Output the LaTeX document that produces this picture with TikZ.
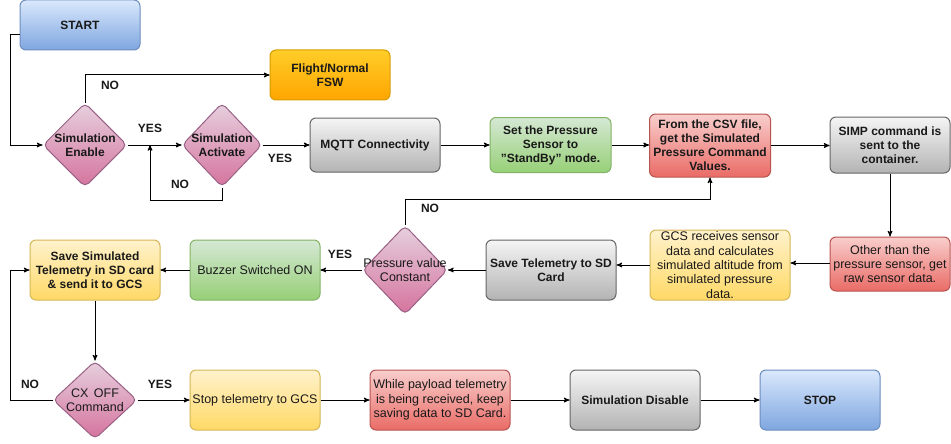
\documentclass[tikz,border=0pt]{standalone}
\usepackage{fontspec}
\setmainfont{Liberation Sans}
\usetikzlibrary{arrows}
\usetikzlibrary{shapes.geometric}

\definecolor{blueT}{HTML}{DAE8FC}\definecolor{blueB}{HTML}{7EA6E0}\definecolor{blueD}{HTML}{6C8EBF}
\definecolor{oranT}{HTML}{FFCD28}\definecolor{oranB}{HTML}{FFA500}\definecolor{oranD}{HTML}{D79B00}
\definecolor{grayT}{HTML}{F5F5F5}\definecolor{grayB}{HTML}{B3B3B3}\definecolor{grayD}{HTML}{666666}
\definecolor{grenT}{HTML}{D5E8D4}\definecolor{grenB}{HTML}{97D077}\definecolor{grenD}{HTML}{82B366}
\definecolor{redT}{HTML}{F8CECC}\definecolor{redB}{HTML}{EA6B66}\definecolor{redD}{HTML}{B85450}
\definecolor{yelT}{HTML}{FFF2CC}\definecolor{yelB}{HTML}{FFD966}\definecolor{yelD}{HTML}{D6B656}
\definecolor{pinkT}{HTML}{E6D0DE}\definecolor{pinkB}{HTML}{D5739D}\definecolor{pinkD}{HTML}{996185}

\tikzset{
 box/.style={rounded corners=6pt, align=center, inner sep=0pt, text=black!90,
   font=\fontsize{12}{14}\selectfont\bfseries},
 regtext/.style={font=\fontsize{12.5}{14.3}\selectfont},
 bluebox/.style={box, draw=blueD, top color=blueT, bottom color=blueB},
 oranbox/.style={box, draw=oranD, top color=oranT, bottom color=oranB},
 graybox/.style={box, draw=grayD, top color=grayT, bottom color=grayB},
 grenbox/.style={box, draw=grenD, top color=grenT, bottom color=grenB},
 redbox/.style={box, draw=redD, top color=redT, bottom color=redB},
 yelbox/.style={box, draw=yelD, top color=yelT, bottom color=yelB},
 decision/.style={diamond, rounded corners=5pt, inner sep=0pt, draw=pinkD, top color=pinkT, bottom color=pinkB},
 dtext/.style={align=center, inner sep=0pt, text=black!90, font=\fontsize{12}{14}\selectfont\bfseries},
 lbl/.style={inner sep=0pt, text=black!90, font=\fontsize{12}{14}\selectfont\bfseries}
}

\begin{document}
\begin{tikzpicture}[x=1pt, y=-1pt, >=stealth', line width=1pt]
\useasboundingbox (0,0) rectangle (951,444);
% top rows
\node[bluebox, minimum width=120, minimum height=50] (start) at (80,25) {START};
\node[oranbox, minimum width=120, minimum height=50] (fsw) at (330,75) {Flight/Normal\\FSW};
\node[decision, minimum width=84, minimum height=84] (enable) at (85,145) {};
\node[dtext] at (enable) {Simulation\\Enable};
\node[decision, minimum width=80, minimum height=84] (activate) at (222,145) {};
\node[dtext] at (activate) {Simulation\\Activate};
\node[graybox, minimum width=130, minimum height=54] (mqtt) at (375,145) {MQTT Connectivity};
\node[grenbox, minimum width=121, minimum height=55] (standby) at (550.5,145) {Set the Pressure\\Sensor to\\"StandBy" mode.};
\node[redbox, minimum width=121, minimum height=63] (csv) at (710,145.5) {From the CSV file,\\get the Simulated\\Pressure Command\\Values.};
\node[graybox, minimum width=120, minimum height=56] (simp) at (890,145) {SIMP command is\\sent to the\\container.};
% middle row
\node[redbox, regtext, minimum width=120, minimum height=54] (other) at (890,264) {Other than the\\pressure sensor, get\\raw sensor data.};
\node[yelbox, regtext, minimum width=140, minimum height=70] (gcs) at (720,265) {GCS receives sensor\\data and calculates\\simulated altitude from\\simulated pressure\\data.};
\node[graybox, minimum width=130, minimum height=60] (savetel) at (551,270) {Save Telemetry to SD\\Card};
\node[decision, minimum width=85, minimum height=89] (pressure) at (405,270) {};
\node[dtext, regtext] at (pressure) {Pressure value\\Constant};
\node[grenbox, regtext, minimum width=130, minimum height=60] (buzzer) at (255,270) {Buzzer Switched ON};
\node[yelbox, minimum width=130, minimum height=60] (savesim) at (95,270) {Save Simulated\\Telemetry in SD card\\\& send it to GCS};
% bottom row
\node[decision, minimum width=84, minimum height=78] (cx) at (95,400) {};
\node[dtext, regtext] at (cx) {CX\,\ OFF\\Command};
\node[yelbox, regtext, minimum width=130, minimum height=60] (stoptel) at (255,400) {Stop telemetry to GCS};
\node[redbox, regtext, minimum width=140, minimum height=60] (payload) at (440,400) {While payload telemetry\\is being received, keep\\saving data to SD Card.};
\node[graybox, minimum width=130, minimum height=60] (disable) at (635,400) {Simulation Disable};
\node[bluebox, minimum width=120, minimum height=60] (stop) at (820,400) {STOP};
% connectors
\coordinate (back) at (150,145);
\draw[->] ([yshift=-10pt]start.west) -- ++(-9,0) |- (enable.west);
\draw[->] (enable.north) |- (fsw.west);
\draw[->] (enable.east) -- (activate.west);
\draw[->] (activate.south) -- ++(0,13) -| (back);
\draw[->] (activate.east) -- (mqtt.west);
\foreach \a/\b in {mqtt/standby,standby/csv,csv/simp}
 \draw[->] (\a.east) -- (\b.west |- \a.east);
\draw[->] (simp.south) -- (other.north);
\draw[->] ([yshift=1pt]other.west) -- ([yshift=1pt]gcs.east |- other.west);
\draw[->] (gcs.west) -- (savetel.east |- gcs.west);
\draw[->] (savetel.west) -- (pressure.east);
\draw[->] (pressure.north) -- ++(0,-26) -| (csv.south);
\draw[->] (pressure.west) -- (buzzer.east);
\draw[->] (buzzer.west) -- (savesim.east);
\draw[->] (savesim.south) -- (cx.north);
\draw[->] (cx.west) -- ++(-42,0) |- (savesim.west);
\draw[->] (cx.east) -- (stoptel.west);
\foreach \a/\b in {stoptel/payload,payload/disable,disable/stop}
 \draw[->] (\a.east) -- (\b.west);
% branch labels
\node[lbl] at (110,85) {NO};
\node[lbl] at (150,128.5) {YES};
\node[lbl] at (180,184) {NO};
\node[lbl] at (280,158.5) {YES};
\node[lbl] at (430,208) {NO};
\node[lbl] at (340,254.5) {YES};
\node[lbl] at (30,384.5) {NO};
\node[lbl] at (160,384.5) {YES};
\end{tikzpicture}
\end{document}
